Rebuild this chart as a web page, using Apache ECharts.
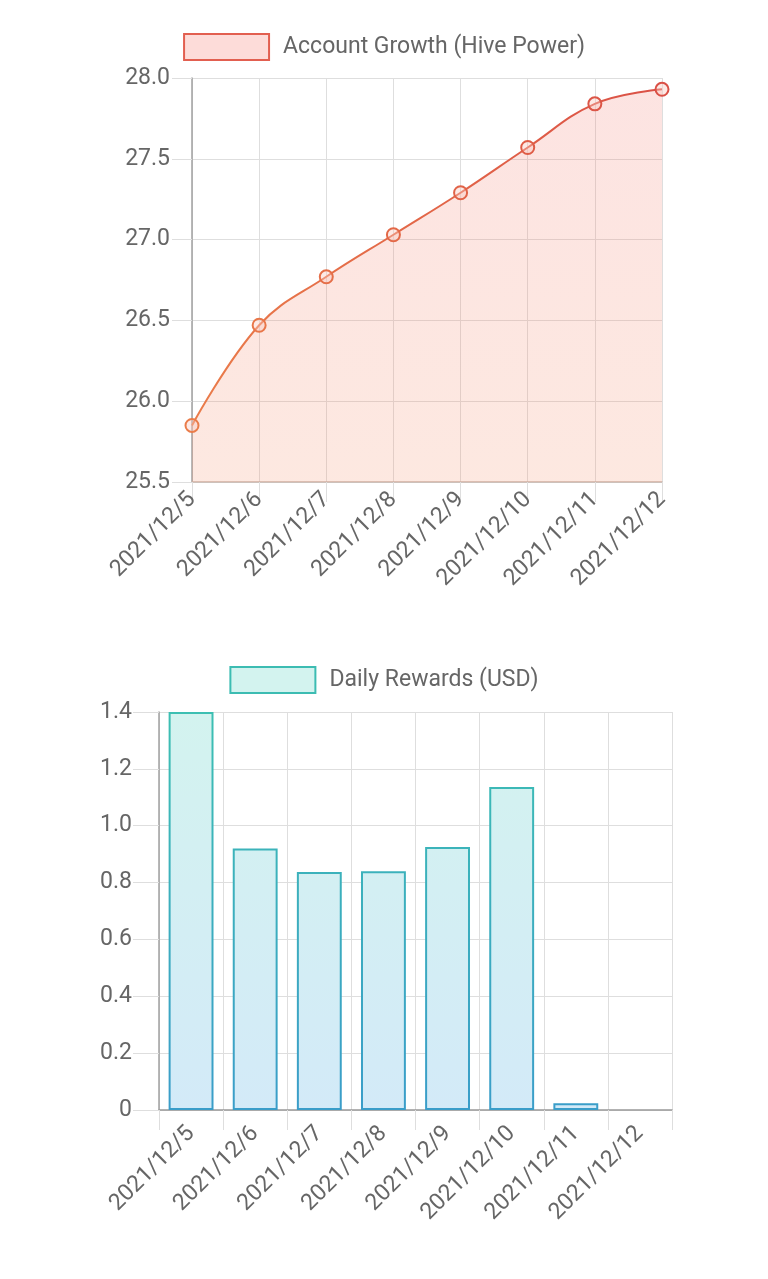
<!DOCTYPE html>
<html>
<head>
<meta charset="utf-8">
<script src="https://cdn.jsdelivr.net/npm/echarts@6/dist/echarts.min.js"></script>
<style>
html,body{margin:0;padding:0;background:#fff;}
#c{width:768px;height:1279px;}
</style>
</head>
<body>
<div id="c"></div>
<script>
const categories = ['2021/12/5','2021/12/6','2021/12/7','2021/12/8','2021/12/9','2021/12/10','2021/12/11','2021/12/12'];
const hivePower = [25.85, 26.47, 26.77, 27.03, 27.29, 27.57, 27.84, 27.93];
const dailyRewards = [1.40, 0.92, 0.837, 0.84, 0.925, 1.136, 0.024, 0];
const hpTicks = {min: 25.5, max: 28.0, interval: 0.5};
const rwTicks = {min: 0, max: 1.4, interval: 0.2};
const lineName = 'Account Growth (Hive Power)';
const barName = 'Daily Rewards (USD)';

const FONT = 'Roboto';
const TXT = '#666';
const GRID = '#dedede';
const FS = 23;

function mix(a, b, t) {
  const r = a.map((v, i) => Math.round(v + (b[i] - v) * t));
  return 'rgb(' + r.join(',') + ')';
}
const orange = [234, 124, 74], red = [218, 80, 70];
const lineData = hivePower.map((v, i) => ({
  value: v,
  itemStyle: { borderColor: mix(orange, red, i / (hivePower.length - 1)) }
}));
const barData = dailyRewards.map(v => v === 0 ? {value: v, itemStyle: {borderWidth: 0}} : v);

const chart = echarts.init(document.getElementById('c'), null, {renderer: 'canvas'});
const lbl = {color: TXT, fontSize: FS, fontFamily: FONT};

chart.setOption({
  animation: false,
  textStyle: {fontFamily: FONT},
  legend: [
    {
      data: [lineName], top: 28, left: 'center',
      itemWidth: 85, itemHeight: 26, itemGap: 14,
      icon: 'rect',
      itemStyle: {color: '#fddcd9', borderColor: '#e25f50', borderWidth: 2},
      textStyle: {color: TXT, fontSize: FS, fontFamily: FONT, padding: [0, 0, 0, 9]}
    },
    {
      data: [barName], top: 661, left: 'center',
      itemWidth: 85, itemHeight: 26, itemGap: 14,
      icon: 'rect',
      itemStyle: {color: '#d3f3ef', borderColor: '#3cbcb2', borderWidth: 2},
      textStyle: {color: TXT, fontSize: FS, fontFamily: FONT, padding: [0, 0, 0, 9]}
    }
  ],
  grid: [
    {left: 192, right: 106, top: 78, height: 404},
    {left: 159, right: 96, top: 712, height: 398}
  ],
  xAxis: [
    {
      type: 'category', gridIndex: 0, data: categories, boundaryGap: false,
      axisLine: {lineStyle: {color: '#c8b8b0', width: 1.5}},
      axisTick: {show: true, length: 20, lineStyle: {color: GRID}},
      axisLabel: Object.assign({rotate: 45, margin: 14, interval: 0}, lbl),
      splitLine: {show: true, lineStyle: {color: GRID}}
    },
    {
      type: 'category', gridIndex: 1, data: categories, boundaryGap: true,
      axisLine: {lineStyle: {color: '#999', width: 1.5}},
      axisTick: {show: true, length: 20, alignWithLabel: false, lineStyle: {color: GRID}},
      axisLabel: Object.assign({rotate: 45, margin: 20, interval: 0}, lbl),
      splitLine: {show: true, lineStyle: {color: GRID}}
    }
  ],
  yAxis: [
    {
      type: 'value', gridIndex: 0, min: hpTicks.min, max: hpTicks.max, interval: hpTicks.interval,
      axisLine: {show: true, lineStyle: {color: '#a0a0a0', width: 1.5}},
      axisTick: {show: true, length: 20, lineStyle: {color: GRID}},
      axisLabel: Object.assign({margin: 22, formatter: v => v.toFixed(1)}, lbl),
      splitLine: {show: true, lineStyle: {color: GRID}}
    },
    {
      type: 'value', gridIndex: 1, min: rwTicks.min, max: rwTicks.max, interval: rwTicks.interval,
      axisLine: {show: true, lineStyle: {color: '#a0a0a0', width: 1.5}},
      axisTick: {show: true, length: 26, lineStyle: {color: GRID}},
      axisLabel: Object.assign({margin: 27, formatter: v => v === 0 ? '0' : v.toFixed(1)}, lbl),
      splitLine: {show: true, lineStyle: {color: GRID}}
    }
  ],
  series: [
    {
      name: lineName, type: 'line', xAxisIndex: 0, yAxisIndex: 0,
      data: lineData, smooth: 0.4,
      symbol: 'circle', symbolSize: 13,
      itemStyle: {color: 'rgba(250,200,190,0.4)', borderWidth: 2},
      lineStyle: {
        width: 2,
        color: new echarts.graphic.LinearGradient(0, 0, 1, 0, [
          {offset: 0, color: 'rgb(234,124,74)'},
          {offset: 1, color: 'rgb(218,80,70)'}
        ])
      },
      areaStyle: {
        origin: 'start',
        color: new echarts.graphic.LinearGradient(0, 0, 0, 1, [
          {offset: 0, color: 'rgba(244,115,105,0.28)'},
          {offset: 1, color: 'rgba(246,140,100,0.28)'}
        ])
      },
      z: 3
    },
    {
      name: barName, type: 'bar', xAxisIndex: 1, yAxisIndex: 1,
      data: barData, barWidth: '70%',
      itemStyle: {
        color: new echarts.graphic.LinearGradient(0, 712, 0, 1110, [
          {offset: 0, color: '#d3f3ef'},
          {offset: 1, color: '#d3eaf8'}
        ], true),
        borderColor: new echarts.graphic.LinearGradient(0, 712, 0, 1110, [
          {offset: 0, color: '#3cbfb2'},
          {offset: 1, color: '#3a9dc9'}
        ], true),
        borderWidth: 2
      }
    }
  ]
});
</script>
</body>
</html>
